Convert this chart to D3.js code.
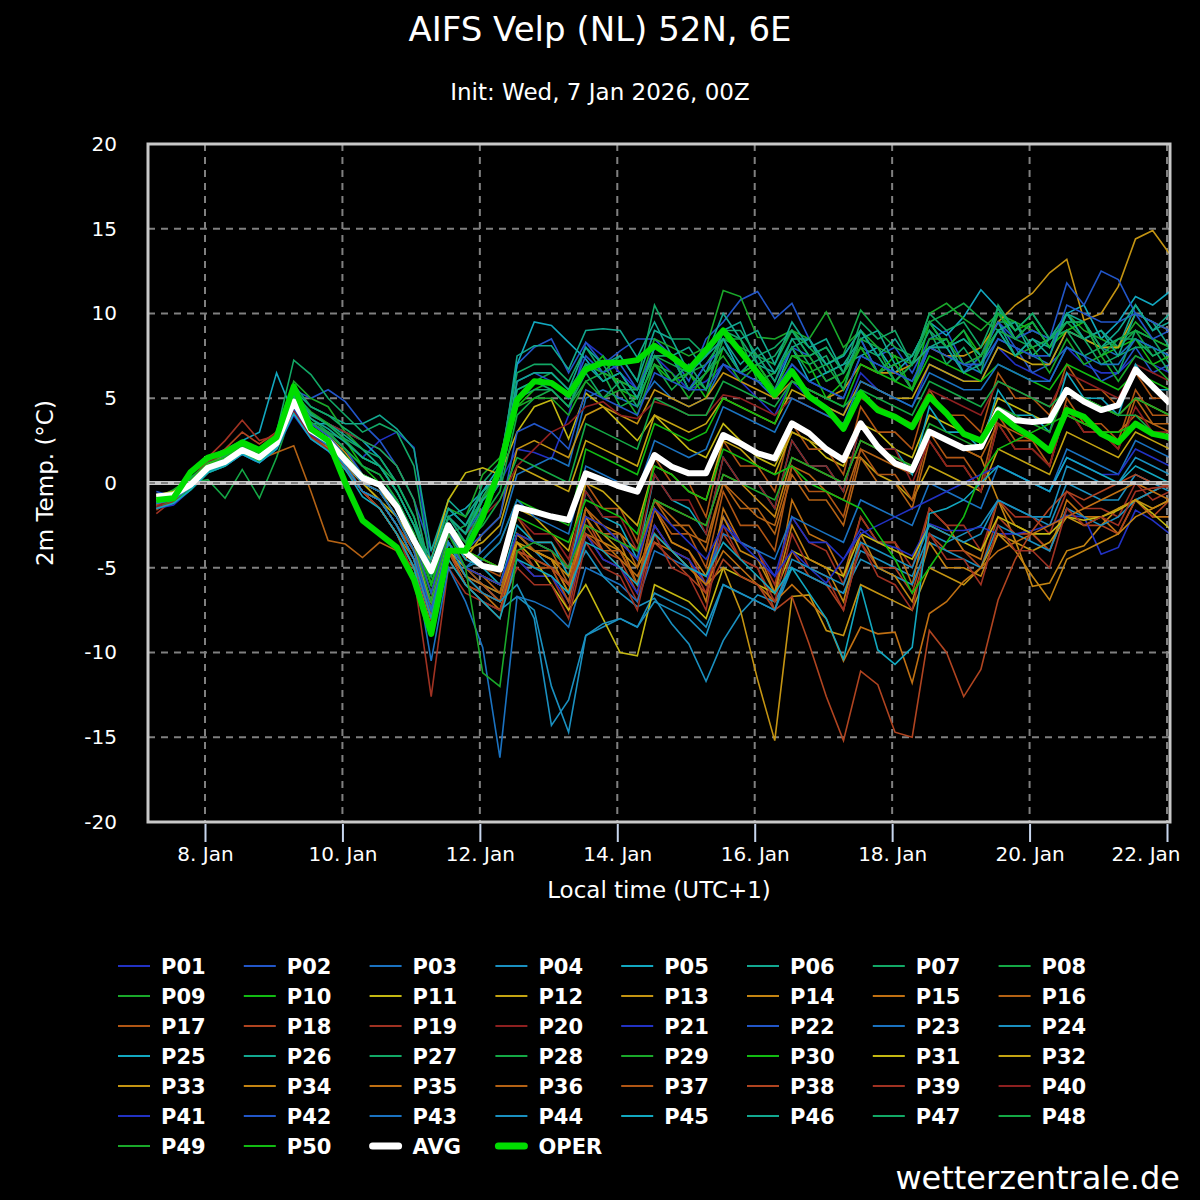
<!DOCTYPE html>
<html>
<head>
<meta charset="utf-8">
<script src="https://cdn.jsdelivr.net/npm/d3@7"></script>
<style>
  body { margin: 0; background: #000; }
  svg { display: block; font-family: "DejaVu Sans", Verdana, sans-serif; }
</style>
</head>
<body>
<svg id="chart" width="1200" height="1200"></svg>
<script>
//// Data: 2m temperature (°C), 6-hourly steps, first step 7 Jan 07:00 local (UTC+1)

const P01 = [-1.2,-0.8,0,1,1.5,2.3,1.8,2.5,4.5,3.5,3,2.5, 1.5,2.5,3,2.1,-5,-2,-3.5,-1.5,0, 2,1.8,1.4,4, 8.3,7.5,6.5,5.5, 7.5,6.5,5.5,6, 7,6,5,4, 6,5,4.5,4, 6.5,5.5,5,4.5, 7,6.5,6,6, 8,7,6.5,6, 8,7,6.5,6.5, 7.5,7,6.5]
const P02 = [-1,-0.5,0.2,1.2,1.8,2.5,2,3,5.5,5,5.5,4.8, 3.5,2.5,1,-1,-4,-1.5,-2.5,-1,0.5, 7,8,8.5,6.5, 8.3,7,7.8,8.5, 8.5,7.5,6,8.5, 9.5,10.8,11.3,9.7, 10.6,8.5,7,7.5, 9,7.5,8,6.5, 8.5,9,7,7.5, 9.5,8,6.5,7, 8,7.5,6,6.5, 8,6.5,7]
const P03 = [-1,-0.9,-0.2,0.7,1.2,1.9,1.4,2.2,4.5,3,2.4,1.2, 0,-0.5,-2,-4,-7,-3.5,-5,-4,-3, 0.5,1,1.5,1, 5,5.5,5,4.5, 6,5,4.5,5, 7,6.5,6,5, 7,6,5.5,5, 7.5,7,6.5,6, 8,7.5,7,6.5, 8.5,8,7.5,7, 9,8.5,8,7.5, 8.5,8,7.5]
const P04 = [-1.4,-1.2,-0.3,0.7,1.1,1.8,1.3,2.1,4.4,2.9,2.1,0.8, -0.5,-1.5,-3,-5,-8.5,-4,-6,-7,-7.5, -6.7,-7.5,-12,-14.7, -9,-8.5,-8,-8.5, -6.5,-7,-7.5,-8.5, -6,-6.5,-7,-7.5, -5,-5.5,-6,-6.5, -4,-4.5,-5,-5.5, -3,-3.5,-3,-2.5, -1,-1.5,-2,-2.5, 0,-0.5,-1,-1, 0.5,0,-0.5]
const P05 = [-1.5,-1.2,-0.3,0.8,1.2,2.5,3,6.5,4,3.5,3.5,3, 2.5,1.5,0,-2,-5,-2,-1.5,-0.5,1, 7,9.5,9.3,8.3, 7.3,6,6.5,5, 8,7.5,5.5,7, 8.5,6.5,7,5.5, 8,6,6.5,7, 7.5,8,6.5,7.5, 9.5,8.7,9.8,11.4, 10.3,8.5,9.5,8, 10,10.5,8.5,9.5, 11,10.5,11.3]
const P06 = [-0.8,-0.6,0.2,1.3,1.6,2.3,2,2.8,5.5,4.5,4,3.5, 3.5,4,3.2,2,-4,-1,-2,-0.5,0.5, 7.5,8.1,8.1,6.7, 9,9.1,9,7.4, 9.5,7.5,8,6.5, 9,9.5,7,6.5, 8,8.5,6.5,7, 8.5,6.5,7,5.5, 8,8.5,6.5,7.5, 9.5,7.5,8.5,8, 10,8.5,9,8, 10.5,9,9.5]
const P07 = [-1,-0.5,0.5,1.5,2,2.5,2,3,7.25,6.4,5,4, 3,3.5,3,1,-5,-2,-3,0,1.2, 6.5,7,7,6, 8,6.5,7.5,6, 10.5,8.5,8.5,7.5, 9,9,7.5,8, 9,7.5,8,6.5, 8,7.5,6,7, 9,8,8.5,7.5, 9.5,9.5,8,8.5, 9,7.5,8,6.5, 9,8.5,7]
const P08 = [-1.3,-1,0,0.2,-0.9,0.8,-0.9,1.5,4.5,3.5,3,2.5, 1.5,1,0,-2,-6,-3,-2.5,-1,0, 5,6,6.5,5.5, 7,6.5,6,5.5, 7.5,7,6.5,7, 8.5,8,7.5,7, 9,8,7,7.6, 10.2,9,8,7.5, 9.5,10,10.6,9.7, 9,8.5,8,8.5, 9.5,8.5,8,8, 9,8.5,8]
const P09 = [-0.9,-0.4,0.3,1.2,1.7,2.4,2,2.8,6,5,4.5,3, 2,1,-0.5,-2.5,-5,-1.5,-2,0.5,1.5, 5.5,6,6,5, 7,6.5,6,5.5, 8.5,8,7.5,8, 11.35,11,8.6,8.5, 9,8.5,10.1,8, 9,8,7.5,7, 10,10.6,9.7,9, 10,9.5,9,8.5, 10,9,8.5,8, 9.5,8.5,8]
const P10 = [-1,-0.8,0,1,1.5,2.2,1.7,2.5,5,4,3.5,2.5, 1,0,-1,-3,-6,-2.5,-3.5,-1,0.5, 4.5,5.5,6,5, 6.5,7.5,5.5,5, 7,6,6.5,5, 8,6.5,7,5.5, 7.5,7,5,6, 8,6.5,7.5,5.5, 9.5,8,9,7.5, 10,9,9.5,8, 9,9.5,7.5,8, 8.5,7,7.5]
const P11 = [-0.7,-0.5,0.1,1.1,1.6,2.2,1.8,2.5,4.5,3,2.2,1, 0,-1,-2,-3.5,-4.5,-1,0.6,0.9,0.5, 3,4.5,4.9,2.6, 5.3,4.5,3.5,2.5, 4,3,2,1.5, 3.5,2.5,1.5,1, 3,2.5,1.5,1, 3.5,3,2,1.5, 4,3.5,3,2.5, 5,4.5,4,3.5, 5.5,5,4.5,4, 5,4.5,4]
const P12 = [-0.8,-0.7,-0.1,1,1.4,2.1,1.6,2.5,4.8,3.2,2.6,1.5, 0,-0.5,-1.5,-3.5,-7.5,-3,-4,-3.5,-2.5, 1,0.5,0,-0.5, 2.5,2,1.5,1, 4,3.5,3,3.5, 5,4.5,4,3.5, 5.5,5,4.5,4, 6,5.5,5,5, 7,6.5,6,6, 8,7.5,7,7, 9,8.5,8,8, 10,9.5,9]
const P13 = [-0.9,-0.6,0,1,1.5,2.2,1.7,2.6,5,3.5,2.8,1.8, 0.5,0,-1.5,-3.5,-8,-3,-4.5,-3,-2, 2,2.5,2,1.5, 4,4.5,4,3.5, 5.5,5,4.5,5, 6.5,6,5.5,5, 6,5.5,5,5.5, 7,6.5,6.5,7, 8,7.5,7.5,8, 9.5,10.5,11.2,12.4, 13.2,9.6,10,11.6, 14.4,14.9,13.5]
const P14 = [-0.8,-0.6,0,1,1.4,2,1.5,2.3,4.5,3,2.4,1.3, 0,-0.5,-2,-4,-8,-3.5,-5,-5.5,-6, -3,-3.5,-4,-5, -2,-2.5,-3,-4, -1,-1.5,-2,-2.5, 0.5,0,-1,-2, 1.5,1,0.5,0, 2.5,2,1.5,1, 3,2.5,2,1.5, -1,-3.4,-6.1,-5.9, -4,-3.7,-2.5,-1.5, -1,-0.5,0]
const P15 = [-1.1,-0.9,-0.2,0.8,1.3,2,1.5,2.2,4.4,2.9,2.1,0.9, -0.5,-1.5,-3,-5,-8.5,-4,-5.5,-6,-7, -3,-4,-4.5,-6.5, -1.5,-3,-3.5,-6, -2.5,-4,-4.5,-7, -1.5,-3.5,-4,-6.5, -1,-3,-3.5,-5.5, -2,-3.5,-3.5,-6, -1.5,-2.5,-4,-4.5, -1,-2.5,-3,-4, -1,-2,-2,-3, -1,-2,-2]
const P16 = [-1,-0.8,0,1,1.3,2,1.4,1.8,2.2,-0.5,-3.4,-3.6, -4.4,-3.5,-4,-5,-7.5,-4,-5.5,-6,-7, -3,-4,-4.5,-5, -1.5,-2.5,-3.5,-4.5, -1,-2,-3,-3.5, 0,-1,-2,-2.5, 1,0.5,-0.5,-1, 2,1.5,1,0.5, 3,2.5,2,1.5, 3.5,3,2.5,2, 4,3.5,3,3, 4,3.5,3]
const P17 = [-1.2,-0.9,-0.2,0.8,1.2,2,1.5,2.2,4.3,3,2.2,1, -0.5,-1,-2.5,-4,-7,-3,-4.5,-5,-5.5, -2,-3.5,-3.5,-5, 0,-1.5,-1.5,-3.5, 1.5,0,0,-2, 2.5,1,1,-0.5, 3.5,2,2,0.5, 4.5,3,3,2, 5.5,4,4,3, 6.5,5,5,4, 7,5.5,5.5,4.5, 6.5,5,5]
const P18 = [-1.6,-0.9,0.2,1.3,2,3,2.3,3,5,3.2,2.5,1.5, 0,-1,-2.5,-4,-8,-4,-6,-7,-8, -3.5,-5,-5,-7, -2,-4,-4.5,-6.5, -1.5,-3.5,-4,-6, -3,-4.5,-5,-7.5, -4,-5.5,-6,-7.5, -3.5,-5,-5,-6.5, -3,-4,-4,-5, -2,-3,-3,-4, -1.5,-2.5,-2.5,-3, -1,-2,-1]
const P19 = [-1.8,-1,0,1.5,2.5,3.7,2.5,2.8,4.5,3,2.3,1.2, -0.5,-1.5,-3,-5.5,-12.6,-5,-6.5,-7,-7.5, -4.5,-5.5,-5.5,-7.5, -3,-4.5,-5,-7, -2.5,-4,-4.5,-6.5, -2,-3.5,-4,-6, -2,-3.5,-4,-6, -2,-3.5,-3.5,-5, -1.5,-2.5,-2.5,-4, -1,-2,-2,-3, -0.5,-1.5,-1.5,-2, 0,-1,-0.5]
const P20 = [-1.5,-1,0,1.2,1.8,2.5,2,3,5,4,3.5,3, 2.5,2,1,-1,-5.5,-2,-3,-2,-1, 1,2,3,3.5, 4.5,4.8,4,3.8, 4.8,4.5,4,4, 5.2,5,4.5,4, 5,4.5,4,3.5, 5,4.5,4,3.5, 5.5,5,4.5,4, 6,5.5,5,4.5, 6.5,6,5.5,5, 7,6.5,6]
const P21 = [-1.5,-1.3,-0.4,0.6,1,1.7,1.2,2,4,2.6,1.9,0.8, -0.5,-1.5,-3,-5,-8,-4,-5.5,-6,-7, -4.5,-5.5,-5.5,-7, -3,-4.5,-5,-6.5, -2.5,-4,-4.5,-6, -2,-3.5,-4,-5.5, -2,-3.5,-3.5,-4.5, -2.7,-3.5,-3.8,-4.3, -2.4,-2.8,-2.8,-2.6, -3,-3,-2.8,-2.5, -1.9,-2,-4.2,-3.8, -1.6,-2.2,-3]
const P22 = [-0.5,-0.8,0,1,1.5,2.2,1.8,2.6,5,3.5,3,2, 0.5,0,-1,-3,-5.5,-2,-3,-1.5,0, 6,6.5,6,5, 7.5,6.5,7,5.5, 8,7.5,5.5,7, 8,6.5,7.5,6, 8,7.5,6,6.5, 8.5,6.5,7,5.5, 8,8,6.5,7.5, 9.5,8.5,9,8.5, 11.8,10.5,12.5,12, 10,8.5,9]
const P23 = [-1,-0.9,-0.2,0.8,1.2,1.9,1.4,2.2,4.6,3.1,2.3,1.1, -0.5,-1,-2.5,-4.5,-10.5,-5,-7,-9.7,-16.2, -6.7,-7,-7.5,-8.5, -5,-5.5,-6,-7, -4,-4.5,-5,-5.5, -3,-3.5,-4,-4.5, -2,-2.5,-3,-3.5, -1,-1.5,-2,-2.5, 0,-0.5,-1,-1.5, 1,0.5,0,-0.5, 2,1.5,1,0.5, 2.5,2,1.5]
const P24 = [-1.3,-1.1,-0.3,0.7,1,1.7,1.2,2,4.2,2.7,2,0.9, -0.5,-1,-2.5,-4.5,-7.5,-3.5,-5,-6,-6.5, -3,-4,-5,-6, -4,-5.5,-6.5,-7.3, -6.8,-8.3,-9.5,-11.7, -9.3,-7.7,-6.6,-7, -5,-5.5,-6,-6.5, -4.5,-5,-5.5,-6, -3.5,-4,-4.5,-5, -2.5,-3,-3.5,-4, -1.5,-2,-2.5,-2, -1,-0.5,0]
const P25 = [-1.3,-1,-0.3,0.7,1.1,1.8,1.3,2.1,4.4,3,2.3,1.2, 0,-0.5,-2,-4,-7,-3,-4.5,-5,-6, -2.5,-3.5,-3.5,-5.5, -0.5,-2,-2.5,-4.5, 0.5,-1,-1.5,-3, 1.5,0,0,-1.5, 2.5,1,1,-0.5, 3.5,2,2,0.5, 4.5,3,3,2, 5.5,4,4,3, 6.5,5,5,4, 7,5.5,5.5]
const P26 = [-1.2,-1,-0.2,0.8,1.2,2,1.6,2.5,5.2,4,3.5,2.8, 2,1,-0.5,-2.5,-4.5,-1.5,-2.5,-0.5,0.5, 6,6.5,6.5,5.5, 8,7,7.5,6, 9,8.5,6.5,7.5, 10,8.5,9,7, 9.5,8,8.5,6.5, 8.5,9,7,7.5, 9.5,8,8.5,7.5, 9,9.5,7.5,8.5, 10,8.5,9,7.5, 10,9.5,8]
const P27 = [-1,-0.7,0.3,1.1,1.5,2.4,1.8,2.7,5.8,4.5,4,3.2, 2.5,2,1,-1,-5.5,-2,-3,-0.8,0.8, 5,6,5.5,4.5, 6.5,5,6,4.5, 7.5,7.5,5.5,6.5, 8,6.5,7.5,6, 8.5,7,7.5,5.5, 9,7.5,6,7, 9,7,8,6.5, 10.5,9,10,8.5, 9,8.5,7,7.5, 8,8,6.5]
const P28 = [-0.7,-0.6,0,1,1.4,2.1,1.6,2.5,5,3.8,3,2, 1,0.5,-1,-3,-6.5,-2.5,-4,-2,-0.5, 4,5,5.5,4.5, 6,6.5,4.5,5, 7,5.5,6.5,5.5, 8.5,8.5,6,6.5, 8,6.5,7,5.5, 8.5,8,6,7, 9.5,8,9,7, 10,8.5,9.5,8, 9.5,9.5,7.5,8.5, 9,7.5,8]
const P29 = [-0.9,-0.6,0.2,1.2,1.5,2.2,1.8,2.6,5.3,4.2,3.5,2.5, 1.5,1,-0.5,-2.5,-5.5,-2,-3,-1,0.8, 4.5,5,5,4, 6,5,5.5,4, 7,6.5,5,6.5, 7.5,6,7,5.5, 7.5,7.5,6,6.5, 8,6.5,7,5.5, 8.5,8.5,7,7.5, 9,7.5,8,6.5, 8.5,7,7.5,6, 7.5,7,6]
const P30 = [-1.3,-1.1,-0.4,0.6,1,1.8,1.3,2.2,4.2,2.8,2.2,1, -0.5,-1,-2.5,-4.5,-8,-3.5,-5,-4.5,-3.5, -1,-1.5,-2,-2.5, 2,1.5,1,0.5, 3.5,3,2.5,3, 5,4.5,4,3.5, 6,5.5,5,4.5, 7,6.5,6,5.5, 7.5,7,6.5,6, 7,6.5,6,5.5, 7,6.5,6,5.5, 6.5,6,5.5]
const P31 = [-0.7,-0.6,0.1,1.1,1.5,2.1,1.7,2.5,4.6,3,2.3,1.2, 0,-1,-2.5,-4.5,-8,-4,-5,-5.5,-6, -3.5,-4.5,-6,-7.5, -6,-8,-10,-10.2, -6,-6.5,-7,-8, -5,-5.5,-6,-6.5, -4,-4.5,-5,-5.5, -3,-3.5,-4,-4.5, -2.5,-3,-3.5,-4, -2,-2.5,-3,-3, -2,-2.2,-2,-1.6, -1,-1.8,-2.7]
const P32 = [-0.9,-0.8,-0.1,0.9,1.3,2,1.5,2.3,4.6,3,2.3,1.1, 0,-0.5,-2,-4,-7,-3,-4,-4.5,-5, -1.5,-2,-3,-4, 0,-0.5,-1.5,-2.5, 1,0.5,-0.5,-1, 2.5,2,1,0.5, 3,2.5,2,1.5, 1.5,0.5,0,-1, 1,0.5,0,-0.5, 2,1.5,1,0.5, 3,2.5,2,1.5, 3,2.5,2]
const P33 = [-0.9,-0.8,-0.1,0.9,1.3,2,1.5,2.3,4.5,2.9,2.1,0.9, -0.5,-1.5,-3,-5,-9,-4,-6,-6.5,-7, -3.5,-4,-4.5,-5.5, -2.5,-3,-4,-5, -3,-4,-5,-6, -5,-7.5,-11.6,-15.2, -6.7,-6.6,-8.7,-9, -6,-6.5,-7,-7.5, -5,-5.5,-6,-5, -3,-3.5,-4,-3.5, -2,-2.5,-2,-1.5, -1,-1.5,-1]
const P34 = [-0.8,-0.7,0,1,1.4,2.1,1.6,2.4,4.5,3,2.2,1, -0.5,-1.5,-3,-4.5,-8,-4,-5.5,-6,-6.5, -3,-4,-4.5,-6.5, -2,-3.5,-4,-6, -1.5,-3.5,-4,-5.5, -2,-4,-4.5,-6.5, -2.5,-4.5,-5,-7, -3,-5,-5.5,-7, -3.5,-5,-5,-5.5, -3,-4,-5.5,-6.9, -4.5,-4,-3.5,-3, -2,-1.5,-1]
const P35 = [-1,-0.9,-0.1,0.9,1.4,2,1.5,2.2,4.3,2.8,2,0.9, -0.5,-1.5,-3,-5,-8.5,-4,-5.5,-6.5,-7.5, -4,-4.5,-5,-6, -3,-3.5,-4.5,-5.5, -3.5,-4,-5,-6, -4,-5,-6,-7, -6,-7,-8,-10.5, -8.5,-8.9,-8.8,-11.8, -7.7,-7,-5.8,-5, -4,-3.5,-3,-2.5, -2,-1.5,-1,-0.5, 0,-0.5,-1]
const P36 = [-1,-0.7,0,1,1.5,2.1,1.6,2.4,4.4,2.8,2,0.8, -0.5,-1,-2.5,-4.5,-8,-3.5,-5,-5.5,-6.5, -3,-4,-4,-6, -1.5,-3,-3,-5, -1,-2.5,-2.5,-4, 0,-1.5,-1.5,-3, 0.5,-1,-1,-2.5, 1.5,0,0,-1.5, 2.5,1,1,-0.5, 3.5,2,2,1, 4.5,3,3,2, 5,3.5,3.5]
const P37 = [-1.1,-0.9,-0.1,0.8,1.2,1.9,1.4,2.2,4.2,2.7,2,0.9, -0.5,-1,-2.5,-4,-7.5,-3.5,-5,-6,-7, -4,-5,-5,-7, -2.5,-4,-4,-6, -1.5,-3,-3,-5, -0.5,-2.5,-2.5,-4, 1,-0.5,-0.5,-2, 2,0.5,0.5,-1, 3,1.5,1.5,0, 4,2.5,2.5,1, 5,3.5,3.5,2.5, 5.5,4,4]
const P38 = [-1.3,-1,-0.2,0.8,1.3,2.2,1.7,2.4,4.6,3,2.2,1, -0.5,-1,-2.5,-4.5,-8,-4,-6,-6.5,-7, -4,-4.5,-5,-6, -3,-4,-5,-6, -3.5,-4.5,-5.5,-6.5, -4.5,-5.5,-6,-7.5, -6.7,-9.5,-12.6,-15.2, -11.1,-11.9,-14.7,-15, -8.7,-10,-12.6,-11, -6.9,-4.5,-2.8,-1.5, -0.5,-1,-0.5,0, 0.5,0,-0.2]
const P39 = [-1.5,-1.1,-0.1,1,1.6,2.5,1.9,2.6,4.2,2.7,2,1, -0.5,-1.5,-3,-5,-9,-4.5,-6,-7,-7.5, -5,-6,-6,-8, -3.5,-5,-5.5,-7.5, -3,-5,-5.5,-7.5, -2.5,-4.5,-5,-7, -3,-5,-5.5,-7.5, -3.5,-5.5,-6,-7.5, -3,-4.5,-4.5,-6, -2.5,-4,-4,-5, -1.5,-2.5,-2,-2.5, -0.5,-0.3,-0.2]
const P40 = [-1.4,-0.9,0,1,1.5,2.2,1.7,2.5,4.3,2.8,2.2,1.5, 0.5,0,-1.5,-3.5,-6.5,-3,-4,-4.5,-5, -2,-3,-3,-4.5, -0.5,-2,-2,-4, 0.5,-1,-1,-3, 1.5,0,0,-1.5, 2.5,1,1,-0.5, 3.5,2,2,0, 2.5,1,1,-0.5, 3.5,2,2,1, 4.5,3,3,2, 4.5,3,3]
const P41 = [-1.2,-1,-0.2,0.8,1.3,2,1.5,2.3,4.4,2.9,2.2,1, -0.5,-1,-2.5,-4.5,-7.5,-3.5,-5,-5.5,-6, -3,-3.5,-4,-5, -2,-2.5,-3.5,-4.5, -1.5,-2.5,-3.5,-4.5, -2.5,-3.5,-4.5,-5.5, -4,-5,-5.9,-4.5, -3,-2.5,-2,-1.5, -1,-0.5,0,0.5, 1,0.5,0,-0.5, 1.5,1,0.5,0.5, 2,1.5,1]
const P42 = [-1,-0.7,0,1,1.5,2.2,1.8,2.6,5,3.5,2.8,1.6, 0.5,0,-1.5,-3.5,-6.5,-3,-4,-3,-2, 3,3.5,3,2, 5.5,5,4.5,4, 6.5,6,5.5,5.5, 7,6.5,6,5.5, 7,6,5.5,5, 7.5,7,6.5,6, 8,7.5,7,7, 8.5,8,7.5,7.5, 10.5,10,9.5,9.5, 10,9.5,9]
const P43 = [-1.1,-0.8,-0.1,0.8,1.3,2,1.5,2.3,4.6,3,2.4,1.2, 0,-0.5,-2,-4,-7.5,-3.5,-5,-4.5,-3.5, -1,-2,-2.5,-3, 1,0.5,0,-0.5, 2.5,2,1.5,2, 4.5,4,3.5,3, 5,4.5,4,3.5, 6,5.5,5,4.5, 6.5,6,5.5,5.5, 7,6.5,6,6, 8,7.5,7,7, 8.5,8,7.5]
const P44 = [-1.2,-1,-0.2,0.8,1.2,1.9,1.4,2.2,4.5,3,2.2,1, -0.5,-1,-2.5,-4.5,-8,-3.5,-5.5,-6.5,-7, -6,-8,-14.3,-12.8, -9,-8.3,-8,-8.5, -7,-7.5,-8,-9, -6,-6.5,-7,-7.5, -4.5,-5,-5.5,-6, -3.5,-4,-4.5,-5, -2.5,-3,-3.5,-3, -1,-1.5,-2,-2, 1,0.5,0,0, 1.5,1,0.5]
const P45 = [-1.5,-1.2,-0.4,0.6,1,1.7,1.2,2,4.1,2.6,1.9,0.8, -0.8,-1.5,-3,-5,-9,-4.5,-6,-7,-8, -4.5,-5,-5.5,-6.5, -3.5,-4,-5,-6, -3,-4,-5,-5.5, -3.5,-4.5,-5.5,-6.5, -5,-6.5,-8,-10.4, -6.1,-9.85,-10.7,-9.7, -1.8,-1.5,-1,0, 1,0.5,0,-0.5, 1.5,1,0.5,0, 1,0.5,0]
const P46 = [-1.1,-0.9,-0.1,0.9,1.4,2.2,1.7,2.6,5.1,3.8,3.2,2.4, 1.5,1,-0.5,-2.5,-5,-2,-3,-1,0, 5.5,6,6,5, 7,6,6.5,5, 8,7.5,6.5,7.5, 8.5,7,8,6.5, 8.5,8.5,7,7.5, 9,7.5,8.5,7, 8,8,6.5,7, 9,7.5,8.5,7.5, 10,9.5,8,9, 10.5,9,10]
const P47 = [-1,-0.8,0.1,1,1.6,2.3,1.9,2.7,5.4,4.1,3.4,2.6, 2,1.5,0,-2,-5.5,-2,-3.5,-1.5,0, 5,5.5,5.5,4.5, 7,7,5.5,5.5, 7.5,6,7,5.5, 9,8.5,7,7.5, 9,7.5,8,6.5, 9.5,8.5,9,7, 10,9,9.5,8, 10.3,9,10,8.5, 9.5,9.5,8,8.5, 8.5,7.5,8]
const P48 = [-0.9,-0.7,0,1,1.4,2.1,1.7,2.5,5,3.6,2.9,2, 1,0.5,-1,-3,-6,-2.5,-3.5,-2.5,-1, 1.5,1,0.5,0, 3.5,3,2.5,2, 5,4.5,4,4, 6,5.5,5,4.5, 6,5.5,5,4.5, 5.5,5,4.5,4, 6,5.5,5,4.5, 6,5.5,5,4.5, 5.5,5,4.5,4, 4,3,2.5]
const P49 = [-1,-0.8,0,0.9,1.3,2,1.5,2.3,4.5,3.2,2.5,1.4, 0.5,0,-1.5,-3.5,-7,-3,-5,-11.2,-12, -4,-3.5,-4,-5, -2.5,-3,-3.5,-4, -1,-1.5,-2,-2.5, 0.5,0,-0.5,-1, 1.5,1,0.5,0, 2.5,2,1.5,1, 3.5,3,2.5,2, 4.5,4,3.5,3, 5.5,5,4.5,4, 5,4.5,4]
const P50 = [-0.8,-0.6,0.1,1.1,1.5,2.2,1.7,2.5,4.7,3.3,2.6,1.6, 0.5,0,-1.5,-3,-6,-2.5,-4,-4.5,-5, -2,-2.5,-3,-3.5, -1,-1.5,-2,-3, 1,0.5,-0.5,-1, 2,1.5,1,0.5, 1,0,-0.5,-1, -1.5,-3,-4.5,-6.5, -5,-3.5,-2,0.5, 2,2.5,3,3.5, 4,3.5,3,3, 3.5,3,2.5]

const AVG = [-0.8,-0.7,-0.1,0.9,1.25,1.95,1.5,2.35,4.8,3.1,2.5,1.35, 0.3,-0.1,-1.4,-3.4,-5.2,-2.5,-4.1,-4.9,-5.1, -1.43,-1.69,-1.98,-2.18, 0.57,0.18,-0.22,-0.51, 1.65,0.96,0.57,0.57, 2.83,2.34,1.75,1.45, 3.52,2.93,2.0,1.36, 3.52,2.14,1.16,0.77, 3.03,2.54,2.05,2.14, 4.3,3.7,3.6,3.7, 5.5,4.8,4.3,4.6, 6.7,5.7,4.7]
const OPER = [-1.0,-0.9,0.65,1.5,1.8,2.4,1.95,2.7,5.7,3.2,2.5,0.0, -2.2,-3.0,-3.8,-5.7,-8.9,-4.0,-4.0,-2.0,0.9, 4.9,6.0,5.9,5.2, 6.7,7.1,7.1,7.25, 8.1,7.45,6.7,7.85, 9.0,7.75,6.5,5.2, 6.6,5.1,4.4,3.2, 5.3,4.3,3.9,3.3, 5.1,4.1,2.9,2.5, 4.1,3.3,2.7,1.9, 4.3,3.9,2.9,2.4, 3.5,2.9,2.7]

// colours repeat every 20 members (blue -> green -> yellow -> red)
const MEMBER_COLORS = ["#2232c4","#2256c8","#1a72c0","#1a90c0","#12a8c0","#12a890","#12a866","#14a845","#1aa82a","#12bb12",
                       "#c4b812","#c4a412","#c49412","#c48412","#c07012","#b46214","#b05614","#b04420","#a03222","#8e2020"]
const AVG_COLOR = "#ffffff"
const OPER_COLOR = "#00dd00"

const X_TICK_DAYS = [8, 10, 12, 14, 16, 18, 20, 22]
const Y_TICKS = [-20, -15, -10, -5, 0, 5, 10, 15, 20]

const members = [P01,P02,P03,P04,P05,P06,P07,P08,P09,P10,P11,P12,P13,P14,P15,P16,P17,P18,P19,P20,
                 P21,P22,P23,P24,P25,P26,P27,P28,P29,P30,P31,P32,P33,P34,P35,P36,P37,P38,P39,P40,
                 P41,P42,P43,P44,P45,P46,P47,P48,P49,P50]

//// Layout
const plot = {left: 148, right: 1170, top: 144, bottom: 822}
const FONT = "'DejaVu Sans', Verdana, sans-serif"

// local time stored as UTC dates, so labels read as UTC+1
const START = Date.UTC(2026, 0, 7, 7)
const STEP = 6 * 3600 * 1000
const stepTime = i => new Date(START + i * STEP)

const x = d3.scaleUtc()
    .domain([new Date(Date.UTC(2026, 0, 8)), new Date(Date.UTC(2026, 0, 22))])
    .range([205, 1167])
const y = d3.scaleLinear()
    .domain([-20, 20])
    .range([plot.bottom, plot.top])

const svg = d3.select("#chart")
svg.append("rect").attr("width", 1200).attr("height", 1200).attr("fill", "#000")

svg.append("defs")
    .append("clipPath")
        .attr("id", "plot-clip")
        .append("rect")
            .attr("x", plot.left)
            .attr("y", plot.top)
            .attr("width", plot.right - plot.left)
            .attr("height", plot.bottom - plot.top)

// Titles
svg.append("text")
    .attr("x", 600).attr("y", 41)
    .attr("text-anchor", "middle")
    .attr("fill", "#fff")
    .style("font", "34px " + FONT)
    .text("AIFS Velp (NL) 52N, 6E")

svg.append("text")
    .attr("x", 600).attr("y", 100)
    .attr("text-anchor", "middle")
    .attr("fill", "#fff")
    .style("font", "23px " + FONT)
    .text("Init: Wed, 7 Jan 2026, 00Z")

// Grid
const tickDates = X_TICK_DAYS.map(d => new Date(Date.UTC(2026, 0, d)))
const grid = svg.append("g")
    .attr("stroke", "#808080")
    .attr("stroke-width", 2)
    .attr("stroke-dasharray", "7,6")
grid.selectAll(".hgrid")
    .data(Y_TICKS.filter(v => v > -20 && v < 20))
    .enter()
    .append("line")
        .attr("x1", plot.left).attr("x2", plot.right)
        .attr("y1", d => y(d)).attr("y2", d => y(d))
grid.selectAll(".vgrid")
    .data(tickDates)
    .enter()
    .append("line")
        .attr("x1", d => x(d)).attr("x2", d => x(d))
        .attr("y1", plot.top).attr("y2", plot.bottom)

// Ensemble members
const line = d3.line()
    .x((d, i) => x(stepTime(i)))
    .y(d => y(d))

const lines = svg.append("g").attr("clip-path", "url(#plot-clip)")
lines.selectAll(".member")
    .data(members)
    .enter()
    .append("path")
        .attr("d", d => line(d))
        .attr("fill", "none")
        .attr("stroke", (d, i) => MEMBER_COLORS[i % 20])
        .attr("stroke-width", 1.6)

// zero line
lines.append("line")
    .attr("x1", plot.left).attr("x2", plot.right)
    .attr("y1", y(0)).attr("y2", y(0))
    .attr("stroke", "#c8c8c8")
    .attr("stroke-width", 4)
lines.append("line")
    .attr("x1", plot.left).attr("x2", plot.right)
    .attr("y1", y(0)).attr("y2", y(0))
    .attr("stroke", "#808080")
    .attr("stroke-width", 2)
    .attr("stroke-dasharray", "7,6")

lines.append("path")
    .attr("d", line(AVG))
    .attr("fill", "none")
    .attr("stroke", AVG_COLOR)
    .attr("stroke-width", 6)
    .attr("stroke-linejoin", "round")

lines.append("path")
    .attr("d", line(OPER))
    .attr("fill", "none")
    .attr("stroke", OPER_COLOR)
    .attr("stroke-width", 6)
    .attr("stroke-linejoin", "round")

// Frame
svg.append("rect")
    .attr("x", plot.left).attr("y", plot.top)
    .attr("width", plot.right - plot.left)
    .attr("height", plot.bottom - plot.top)
    .attr("fill", "none")
    .attr("stroke", "#c8c8c8")
    .attr("stroke-width", 3)

// Axes
const yAxis = svg.append("g")
    .attr("transform", "translate(" + plot.left + ",0)")
    .call(d3.axisLeft(y).tickValues(Y_TICKS).tickSize(0).tickPadding(31).tickFormat(d => String(d)))
yAxis.select(".domain").remove()
yAxis.selectAll("text").attr("fill", "#fff").style("font", "20px " + FONT)

const xAxis = svg.append("g")
    .attr("transform", "translate(0," + (plot.bottom + 2) + ")")
    .call(d3.axisBottom(x).tickValues(tickDates).tickSize(18).tickPadding(5)
        .tickFormat(d => d.getUTCDate() + ". Jan"))
xAxis.select(".domain").remove()
xAxis.selectAll("line").attr("stroke", "#c8d6ee").attr("stroke-width", 2)
xAxis.selectAll("text").attr("fill", "#fff").style("font", "20px " + FONT)
// last label is pushed inside the picture, as in the original
xAxis.selectAll("text")
    .filter((d, i, nodes) => i === nodes.length - 1)
    .attr("text-anchor", "end")
    .attr("x", 1180 - x(tickDates[tickDates.length - 1]))

svg.append("text")
    .attr("x", (plot.left + plot.right) / 2).attr("y", 898)
    .attr("text-anchor", "middle")
    .attr("fill", "#fff")
    .style("font", "23px " + FONT)
    .text("Local time (UTC+1)")

svg.append("text")
    .attr("transform", "translate(53," + y(0) + ") rotate(-90)")
    .attr("text-anchor", "middle")
    .attr("fill", "#fff")
    .style("font", "23px " + FONT)
    .text("2m Temp. (°C)")

// Legend
const legendItems = members.map((d, i) => ({
    name: "P" + String(i + 1).padStart(2, "0"),
    color: MEMBER_COLORS[i % 20],
    width: 2
}))
legendItems.push({name: "AVG", color: AVG_COLOR, width: 7})
legendItems.push({name: "OPER", color: OPER_COLOR, width: 7})

const legend = svg.append("g")
    .selectAll("g")
    .data(legendItems)
    .enter()
    .append("g")
        .attr("transform", (d, i) => "translate(" + (118 + (i % 8) * 125.8) + "," + (966 + Math.floor(i / 8) * 30) + ")")

legend.append("line")
    .attr("x1", d => d.width > 3 ? 3 : 0)
    .attr("x2", d => d.width > 3 ? 29 : 32)
    .attr("stroke", d => d.color)
    .attr("stroke-width", d => d.width)
    .attr("stroke-linecap", d => d.width > 3 ? "round" : "butt")

legend.append("text")
    .attr("x", 43)
    .attr("dy", "0.36em")
    .attr("fill", "#fff")
    .style("font", "bold 21px " + FONT)
    .text(d => d.name)

svg.append("text")
    .attr("x", 1180).attr("y", 1189)
    .attr("text-anchor", "end")
    .attr("fill", "#fff")
    .style("font", "32px " + FONT)
    .text("wetterzentrale.de")
</script>
</body>
</html>
